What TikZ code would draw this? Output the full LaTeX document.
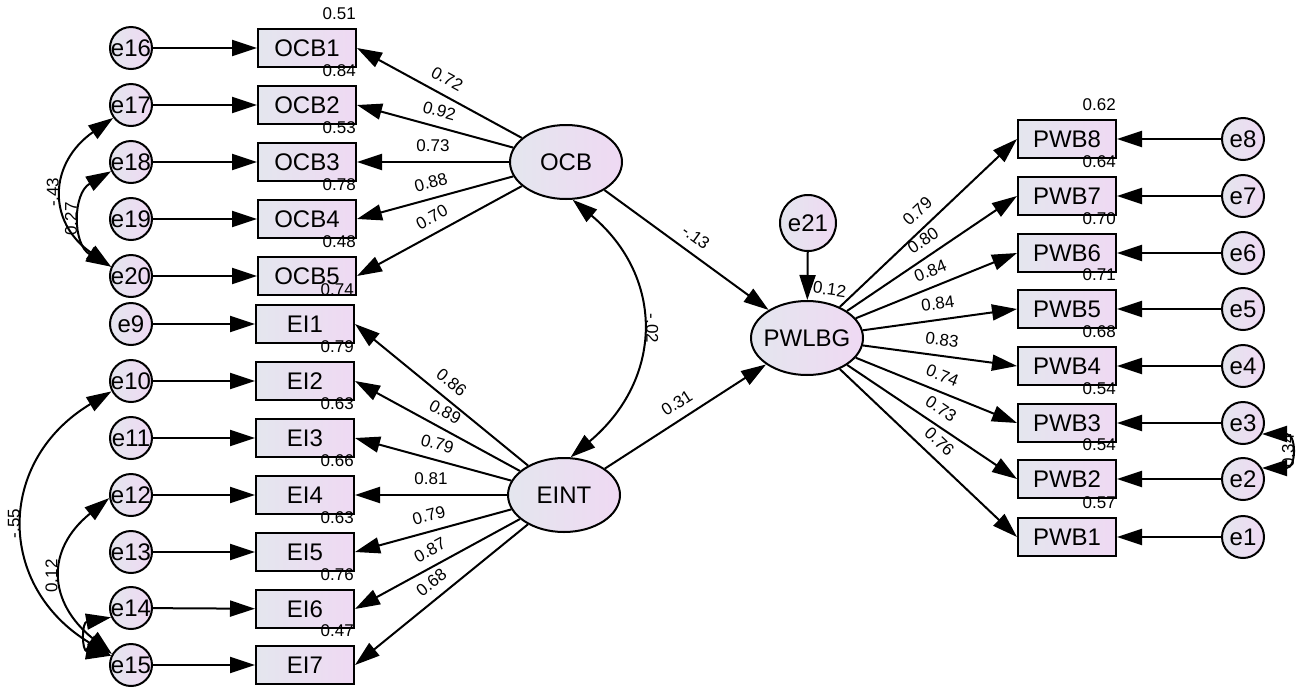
\documentclass[tikz,border=0pt]{standalone}
\usepackage{fontspec}
\setmainfont{Liberation Sans}
\usetikzlibrary{shapes.geometric,arrows.meta}

\definecolor{fillL}{HTML}{E4E6EE}
\definecolor{fillR}{HTML}{EFD9F3}

\tikzstyle{obs} = [rectangle, draw, line width=2pt, minimum width=98pt, minimum height=38pt, inner sep=0pt, left color=fillL, right color=fillR, font=\fontsize{24}{24}\selectfont]
\tikzstyle{err} = [circle, draw, line width=2pt, minimum size=42pt, inner sep=-3pt, left color=fillL, right color=fillR, font=\fontsize{24}{24}\selectfont]
\tikzstyle{lat} = [ellipse, draw, line width=2pt, minimum width=112pt, minimum height=74pt, inner xsep=-15pt, left color=fillL, right color=fillR, font=\fontsize{24}{24}\selectfont]
\tikzstyle{arr} = [-{Triangle[length=25pt,width=16pt]}, line width=2pt]
\tikzstyle{cov} = [{Triangle[length=25pt,width=16pt]}-{Triangle[length=25pt,width=16pt]}, line width=2pt]
\tikzstyle{num} = [font=\fontsize{17}{17}\selectfont, inner sep=1pt]
\tikzstyle{rsq} = [num, anchor=south east, yshift=7pt]
\tikzstyle{coef} = [num, sloped, above=8pt]
\tikzstyle{covl} = [num, anchor=south, inner sep=4pt]

\begin{document}
\begin{tikzpicture}[x=1pt,y=1pt]
  \useasboundingbox (0,0) rectangle (1299,-694);

  % latent variables
  \node[lat] (OCB) at (566,-162) {OCB};
  \node[lat] (EINT) at (564,-495) {EINT};
  \node[lat, label={[num, anchor=south west, xshift=4pt, yshift=6pt, rotate=-8]north:0.12}] (PWLBG) at (807,-338) {PWLBG};
  \node[err, minimum size=56pt] (e21) at (808,-223) {e21};

  % OCB indicators
  \node[obs, label={[rsq]north east:0.51}] (OCB1) at (307,-48) {OCB1};
  \node[obs, label={[rsq]north east:0.84}] (OCB2) at (307,-105) {OCB2};
  \node[obs, label={[rsq]north east:0.53}] (OCB3) at (307,-162) {OCB3};
  \node[obs, label={[rsq]north east:0.78}] (OCB4) at (307,-219) {OCB4};
  \node[obs, label={[rsq]north east:0.48}] (OCB5) at (307,-276) {OCB5};
  \node[err] (e16) at (131,-48) {e16};
  \node[err] (e17) at (131,-105) {e17};
  \node[err] (e18) at (131,-162) {e18};
  \node[err] (e19) at (131,-219) {e19};
  \node[err] (e20) at (131,-276) {e20};

  % EINT indicators
  \node[obs, label={[rsq]north east:0.74}] (EI1) at (305,-324) {EI1};
  \node[obs, label={[rsq]north east:0.79}] (EI2) at (305,-381) {EI2};
  \node[obs, label={[rsq]north east:0.63}] (EI3) at (305,-438) {EI3};
  \node[obs, label={[rsq]north east:0.66}] (EI4) at (305,-495) {EI4};
  \node[obs, label={[rsq]north east:0.63}] (EI5) at (305,-552) {EI5};
  \node[obs, label={[rsq]north east:0.76}] (EI6) at (305,-609) {EI6};
  \node[obs, label={[rsq]north east:0.47}] (EI7) at (305,-665) {EI7};
  \node[err] (e9) at (131,-324) {e9};
  \node[err] (e10) at (131,-381) {e10};
  \node[err] (e11) at (131,-438) {e11};
  \node[err] (e12) at (131,-495) {e12};
  \node[err] (e13) at (131,-552) {e13};
  \node[err] (e14) at (131,-608) {e14};
  \node[err] (e15) at (131,-665) {e15};

  % PWLBG indicators
  \node[obs, label={[rsq]north east:0.62}] (PWB8) at (1067,-139) {PWB8};
  \node[obs, label={[rsq]north east:0.64}] (PWB7) at (1067,-196) {PWB7};
  \node[obs, label={[rsq]north east:0.70}] (PWB6) at (1067,-253) {PWB6};
  \node[obs, label={[rsq]north east:0.71}] (PWB5) at (1067,-309) {PWB5};
  \node[obs, label={[rsq]north east:0.68}] (PWB4) at (1067,-366) {PWB4};
  \node[obs, label={[rsq]north east:0.54}] (PWB3) at (1067,-423) {PWB3};
  \node[obs, label={[rsq]north east:0.54}] (PWB2) at (1067,-479) {PWB2};
  \node[obs, label={[rsq]north east:0.57}] (PWB1) at (1067,-537) {PWB1};
  \node[err] (e8) at (1243,-139) {e8};
  \node[err] (e7) at (1243,-196) {e7};
  \node[err] (e6) at (1243,-253) {e6};
  \node[err] (e5) at (1243,-309) {e5};
  \node[err] (e4) at (1243,-366) {e4};
  \node[err] (e3) at (1243,-423) {e3};
  \node[err] (e2) at (1243,-479) {e2};
  \node[err] (e1) at (1243,-537) {e1};

  % error paths
  \draw[arr] (e16) -- (OCB1);
  \draw[arr] (e17) -- (OCB2);
  \draw[arr] (e18) -- (OCB3);
  \draw[arr] (e19) -- (OCB4);
  \draw[arr] (e20) -- (OCB5);
  \draw[arr] (e9) -- (EI1);
  \draw[arr] (e10) -- (EI2);
  \draw[arr] (e11) -- (EI3);
  \draw[arr] (e12) -- (EI4);
  \draw[arr] (e13) -- (EI5);
  \draw[arr] (e14) -- (EI6);
  \draw[arr] (e15) -- (EI7);
  \draw[arr] (e8) -- (PWB8);
  \draw[arr] (e7) -- (PWB7);
  \draw[arr] (e6) -- (PWB6);
  \draw[arr] (e5) -- (PWB5);
  \draw[arr] (e4) -- (PWB4);
  \draw[arr] (e3) -- (PWB3);
  \draw[arr] (e2) -- (PWB2);
  \draw[arr] (e1) -- (PWB1);
  \draw[arr] (e21) -- (PWLBG);

  % loadings
  \draw[arr] (OCB) -- node[coef] {0.72} (OCB1.east);
  \draw[arr] (OCB) -- node[coef] {0.92} (OCB2.east);
  \draw[arr] (OCB) -- node[coef] {0.73} (OCB3.east);
  \draw[arr] (OCB) -- node[coef] {0.88} (OCB4.east);
  \draw[arr] (OCB) -- node[coef] {0.70} (OCB5.east);
  \draw[arr] (EINT) -- node[coef] {0.86} (EI1.east);
  \draw[arr] (EINT) -- node[coef] {0.89} (EI2.east);
  \draw[arr] (EINT) -- node[coef] {0.79} (EI3.east);
  \draw[arr] (EINT) -- node[coef] {0.81} (EI4.east);
  \draw[arr] (EINT) -- node[coef] {0.79} (EI5.east);
  \draw[arr] (EINT) -- node[coef] {0.87} (EI6.east);
  \draw[arr] (EINT) -- node[coef] {0.68} (EI7.east);
  \draw[arr] (PWLBG) -- node[coef] {0.79} (PWB8.west);
  \draw[arr] (PWLBG) -- node[coef] {0.80} (PWB7.west);
  \draw[arr] (PWLBG) -- node[coef] {0.84} (PWB6.west);
  \draw[arr] (PWLBG) -- node[coef] {0.84} (PWB5.west);
  \draw[arr] (PWLBG) -- node[coef] {0.83} (PWB4.west);
  \draw[arr] (PWLBG) -- node[coef] {0.74} (PWB3.west);
  \draw[arr] (PWLBG) -- node[coef] {0.73} (PWB2.west);
  \draw[arr] (PWLBG) -- node[coef] {0.76} (PWB1.west);

  % structural paths
  \draw[arr] (OCB) -- node[coef] {-.13} (PWLBG);
  \draw[arr] (EINT) -- node[coef] {0.31} (PWLBG);

  % covariances
  \draw[cov] (OCB.-80) to[out=-40,in=40,looseness=1.2] node[covl, rotate=-90] {-.02} (EINT.80);
  \draw[cov] (e17.216) to[out=215,in=145,looseness=1.35] node[covl, rotate=90] {-.43} (e20.155);
  \draw[cov] (e18.205) to[out=210,in=150,looseness=1.2] node[covl, rotate=90] {0.27} (e20.155);
  \draw[cov] (e10.208) to[out=211,in=149,looseness=1.3] node[covl, rotate=90] {-.55} (e15.155);
  \draw[cov] (e12.188) to[out=219,in=141,looseness=1.35] node[covl, rotate=90] {0.12} (e15.150);
  \draw[cov] (e14.205) to[out=190,in=170,looseness=2] (e15.155);
  \draw[cov] (e3.-30) to[out=0,in=0,looseness=2.6] node[num, rotate=90] {0.34} (e2.30);
\end{tikzpicture}
\end{document}
